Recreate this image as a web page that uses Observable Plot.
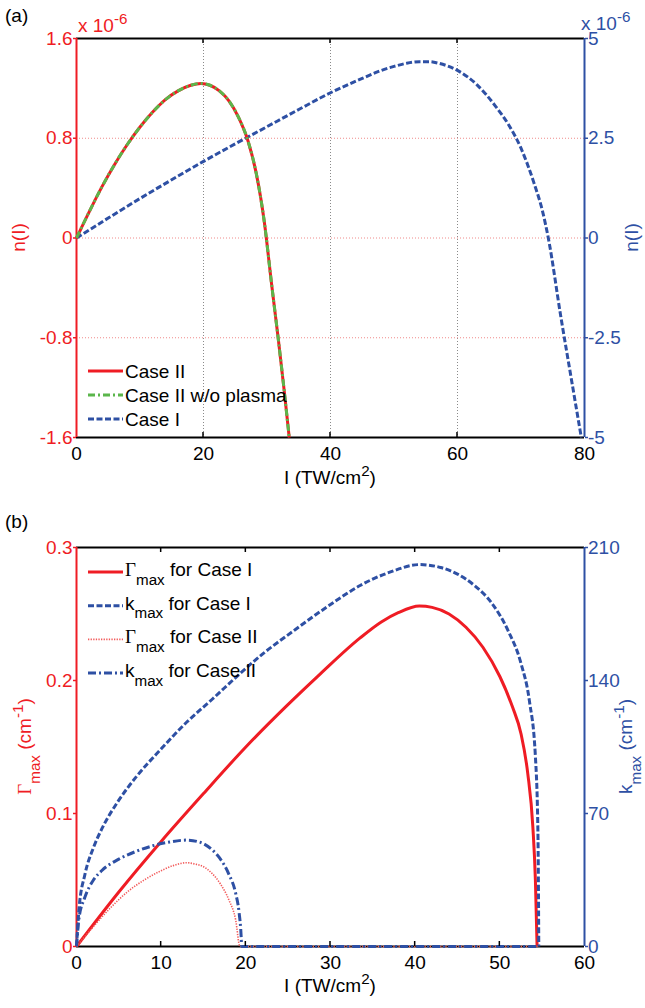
<!DOCTYPE html>
<html>
<head>
<meta charset="utf-8">
<script src="https://cdn.jsdelivr.net/npm/d3@7"></script>
<script src="https://cdn.jsdelivr.net/npm/@observablehq/plot@0.6"></script>
<style>
  html, body { margin: 0; padding: 0; background: #fff; }
  #chart { width: 645px; height: 1008px; }
  #chart svg { display: block; }
</style>
</head>
<body>
<div id="chart"></div>
<script>
const FONT = '"Liberation Sans", Arial, Helvetica, sans-serif';
const SERIF = '"Liberation Serif", "Times New Roman", serif';
const RED = "#ef1c24", BLUE = "#2e50a4", GREEN = "#5bb64b", BLACK = "#000", LRED = "#f25a5a";

// ---------- Panel (a) data ----------
const aXTicks = [0, 20, 40, 60, 80];
const aLeftTicks = [-1.6, -0.8, 0, 0.8, 1.6];     // x 10^-6
const aRightTicks = [-5, -2.5, 0, 2.5, 5];        // x 10^-6
const aGridY = [-0.8, 0, 0.8];
const aCaseII_I = [0, 2, 4, 6, 8, 10, 12, 14, 16, 18, 19.6, 21, 22.5, 24, 25.5, 27, 28.3, 29.6, 30.7, 31.8, 32.7, 33.5];
const aCaseII_n = [0, 0.21, 0.41, 0.59, 0.75, 0.89, 1.01, 1.11, 1.18, 1.225, 1.24, 1.225, 1.18, 1.1, 0.97, 0.78, 0.52, 0.12, -0.36, -0.82, -1.22, -1.6];
const aCaseIIwo_I = [0, 2, 4, 6, 8, 10, 12, 14, 16, 18, 19.6, 21, 22.5, 24, 25.5, 27, 28.3, 29.6, 30.7, 31.8, 32.7, 33.5];
const aCaseIIwo_n = [0, 0.21, 0.41, 0.59, 0.75, 0.89, 1.01, 1.11, 1.18, 1.225, 1.24, 1.225, 1.18, 1.1, 0.97, 0.78, 0.52, 0.12, -0.36, -0.82, -1.22, -1.6];
const aCaseI_I = [0, 5, 10, 15, 20, 25, 30, 35, 40, 45, 48, 50, 52, 54, 55.5, 57, 60, 63, 66, 68, 70, 72, 73.5, 74.3, 76.3, 78, 79.5];
const aCaseI_n = [0, 0.5, 0.99, 1.46, 1.92, 2.36, 2.79, 3.22, 3.64, 4.0, 4.2, 4.3, 4.38, 4.42, 4.42, 4.38, 4.2, 3.85, 3.3, 2.85, 2.25, 1.4, 0.6, 0, -2.0, -3.6, -5];

// ---------- Panel (b) data ----------
const bXTicks = [0, 10, 20, 30, 40, 50, 60];
const bLeftTicks = [0, 0.1, 0.2, 0.3];
const bRightTicks = [0, 70, 140, 210];
const bGammaI_I = [0, 5, 10, 15, 20, 25, 28.8, 33.5, 36, 38, 40.5, 42, 44, 46, 48, 50, 51.5, 52.5, 53.3, 53.9, 54.2, 54.4];
const bGammaI = [0, 0.041, 0.079, 0.115, 0.15, 0.182, 0.205, 0.232, 0.244, 0.251, 0.256, 0.255, 0.25, 0.24, 0.225, 0.203, 0.18, 0.16, 0.13, 0.09, 0.05, 0];
const bKI_I = [0, 0.3, 1, 2, 3, 5, 7, 10, 13, 16, 19.4, 22, 25.6, 30, 33.5, 37, 40.5, 43, 45, 47, 49, 51, 52.5, 53.5, 54.2, 54.5, 54.6];
const bKI = [0, 20, 38, 52, 62, 77, 89, 104, 118, 130, 144, 154, 166, 180, 190, 197, 201, 199.5, 196, 190, 181, 166, 149, 129, 100, 60, 0];
const bGammaII_I = [0, 2, 4, 6, 8, 10, 11.5, 13, 14, 15, 16, 17, 18, 18.8, 19.3, 54.5];
const bGammaII = [0, 0.015, 0.029, 0.041, 0.05, 0.057, 0.061, 0.063, 0.062, 0.06, 0.055, 0.047, 0.035, 0.02, 0, 0];
const bKII_I = [0, 0.3, 1, 2, 3, 5, 7, 9, 11, 13, 14.5, 16, 17, 18, 18.8, 19.2, 19.45, 19.5, 54.5];
const bKII = [0, 15, 26, 35, 40, 46, 50, 53, 55, 56, 55, 51, 46, 38, 28, 18, 5, 0, 0];

// ---------- helpers ----------
const rows = (X, Y) => X.map((v, i) => ({I: v, v: Y[i]}));
const aK = d3.max(aLeftTicks) / d3.max(aRightTicks);
const bK = d3.max(bLeftTicks) / d3.max(bRightTicks);

function rich(sel, parts, size) {
  let cur = 0;
  for (const p of parts) {
    const [s, type, fam] = Array.isArray(p) ? p : [p];
    const target = type === "sup" ? -0.42 * size : type === "sub" ? 0.46 * size : 0;
    const ts = sel.append("tspan").text(s).attr("dy", target - cur);
    cur = target;
    if (type === "sup" || type === "sub") ts.attr("font-size", size * 0.8);
    if (fam) ts.attr("font-family", fam);
  }
}
function label(parts, place) {
  return (index, scales, values, dims) => {
    const {x, y, rotate = 0, anchor = "start", fill = BLACK, size = 19} = place(dims);
    const t = d3.create("svg:text")
      .attr("transform", `translate(${x},${y}) rotate(${rotate})`)
      .attr("text-anchor", anchor).attr("fill", fill)
      .attr("font-size", size).attr("font-family", FONT);
    rich(t, parts, size);
    return t.node();
  };
}
function frameTicks(ticks, len) {
  return (index, {x}, values, {height, marginTop, marginBottom}) => {
    const g = d3.create("svg:g").attr("stroke", BLACK).attr("stroke-width", 1.5);
    const top = marginTop, bot = height - marginBottom;
    for (const t of ticks.slice(1, -1)) {
      const px = x(t);
      g.append("line").attr("x1", px).attr("x2", px).attr("y1", top).attr("y2", top + len);
      g.append("line").attr("x1", px).attr("x2", px).attr("y1", bot).attr("y2", bot - len);
    }
    return g.node();
  };
}
function legend(entries, rowY, baseOff) {
  return (index, scales, values, dims) => {
    const g = d3.create("svg:g");
    const x0 = dims.marginLeft + 12;
    entries.forEach((e, i) => {
      const y = rowY(dims, i);
      g.append("line").attr("x1", x0).attr("x2", x0 + 35).attr("y1", y).attr("y2", y)
        .attr("stroke", e.stroke).attr("stroke-width", e.width)
        .attr("stroke-linecap", "butt")
        .attr("stroke-dasharray", e.dash || null);
      const t = g.append("text").attr("x", x0 + 37).attr("y", y + baseOff)
        .attr("text-anchor", "start")
        .attr("font-size", 19).attr("font-family", FONT).attr("fill", BLACK);
      rich(t, e.parts, 19);
    });
    return g.node();
  };
}
const fmtNum = d => String(+d.toFixed(2));
const dashed = (o) => ({strokeLinecap: "butt", strokeLinejoin: "round", curve: "monotone-x", ...o});

// ---------- Panel (a) ----------
const aXD = [aXTicks[0], aXTicks[aXTicks.length - 1]];
const aYD = [aLeftTicks[0], aLeftTicks[aLeftTicks.length - 1]];
const panelA = Plot.plot({
  width: 645, height: 500,
  marginTop: 38, marginBottom: 63, marginLeft: 76, marginRight: 61,
  style: {fontFamily: FONT, fontSize: "19px", background: "#fff", overflow: "visible"},
  x: {domain: aXD},
  y: {domain: aYD},
  marks: [
    Plot.ruleX(aXTicks.slice(1, -1), {stroke: "#8a8a8a", strokeWidth: 1, strokeDasharray: "1,2"}),
    Plot.ruleY(aGridY, {stroke: "#f08a8a", strokeWidth: 1, strokeDasharray: "1,2"}),
    Plot.ruleY([aYD[1]], {stroke: BLACK, strokeWidth: 2}),
    Plot.ruleY([aYD[0]], {stroke: BLACK, strokeWidth: 2}),
    Plot.ruleX([aXD[0]], {stroke: RED, strokeWidth: 2}),
    Plot.ruleX([aXD[1]], {stroke: BLUE, strokeWidth: 2}),
    Plot.line(rows(aCaseI_I, aCaseI_n), dashed({x: "I", y: d => d.v * aK, stroke: BLUE, strokeWidth: 3, strokeDasharray: "6,2.5"})),
    Plot.line(rows(aCaseII_I, aCaseII_n), dashed({x: "I", y: "v", stroke: RED, strokeWidth: 3})),
    Plot.line(rows(aCaseIIwo_I, aCaseIIwo_n), dashed({x: "I", y: "v", stroke: GREEN, strokeWidth: 3, strokeDasharray: "7,3,2,3"})),
    frameTicks(aXTicks, 5),
    Plot.axisX({ticks: aXTicks, tickSize: 0, tickPadding: 9, tickFormat: fmtNum, label: null, fontSize: 19}),
    Plot.axisY({anchor: "left", ticks: aLeftTicks, tickSize: 3, tickPadding: 1, tickFormat: fmtNum, label: null, fontSize: 19, color: RED, fill: RED, stroke: RED, strokeWidth: 1.5}),
    Plot.axisY({anchor: "right", ticks: aRightTicks.map(v => v * aK), tickSize: 3, tickPadding: 0.5, tickFormat: d => fmtNum(d / aK), label: null, fontSize: 19, color: BLUE, fill: BLUE, stroke: BLUE, strokeWidth: 1.5}),
    legend([
      {parts: ["Case II"], stroke: RED, width: 3},
      {parts: ["Case II w/o plasma"], stroke: GREEN, width: 3, dash: "7,3,2,3"},
      {parts: ["Case I"], stroke: BLUE, width: 3, dash: "6,2.5"}
    ], (d, i) => d.height - d.marginBottom - 66 + i * 24, 7),
    label(["(a)"], d => ({x: 5, y: 22})),
    label(["x 10", ["-6", "sup"]], d => ({x: d.marginLeft + 2, y: d.marginTop - 6, fill: RED})),
    label(["x 10", ["-6", "sup"]], d => ({x: d.width - d.marginRight - 3, y: d.marginTop - 8, fill: BLUE})),
    label(["I (TW/cm", ["2", "sup"], ")"], d => ({x: (d.marginLeft + d.width - d.marginRight) / 2, y: d.height - d.marginBottom + 47, anchor: "middle"})),
    label(["n(I)"], d => ({x: 25, y: (d.marginTop + d.height - d.marginBottom) / 2, rotate: -90, anchor: "middle", fill: RED})),
    label(["n(I)"], d => ({x: 638, y: (d.marginTop + d.height - d.marginBottom) / 2, rotate: -90, anchor: "middle", fill: BLUE}))
  ]
});

// ---------- Panel (b) ----------
const bXD = [bXTicks[0], bXTicks[bXTicks.length - 1]];
const bYD = [bLeftTicks[0], bLeftTicks[bLeftTicks.length - 1]];
const panelB = Plot.plot({
  width: 645, height: 508,
  marginTop: 47, marginBottom: 62, marginLeft: 76, marginRight: 61,
  style: {fontFamily: FONT, fontSize: "19px", background: "#fff", overflow: "visible"},
  x: {domain: bXD},
  y: {domain: bYD},
  marks: [
    Plot.ruleY([bYD[1]], {stroke: BLACK, strokeWidth: 2}),
    Plot.ruleY([bYD[0]], {stroke: BLACK, strokeWidth: 2}),
    Plot.ruleX([bXD[0]], {stroke: RED, strokeWidth: 2}),
    Plot.ruleX([bXD[1]], {stroke: BLUE, strokeWidth: 2}),
    Plot.line(rows(bGammaI_I, bGammaI), dashed({x: "I", y: "v", stroke: RED, strokeWidth: 3})),
    Plot.line(rows(bKI_I, bKI), dashed({x: "I", y: d => d.v * bK, stroke: BLUE, strokeWidth: 3, strokeDasharray: "6,2.5"})),
    Plot.line(rows(bGammaII_I, bGammaII), dashed({x: "I", y: "v", stroke: LRED, strokeWidth: 1.6, strokeDasharray: "1.3,1.3"})),
    Plot.line(rows(bKII_I, bKII), dashed({x: "I", y: d => d.v * bK, stroke: BLUE, strokeWidth: 3, strokeDasharray: "8,3,2,3"})),
    frameTicks(bXTicks, 5),
    Plot.axisX({ticks: bXTicks, tickSize: 0, tickPadding: 9, tickFormat: fmtNum, label: null, fontSize: 19}),
    Plot.axisY({anchor: "left", ticks: bLeftTicks, tickSize: 3, tickPadding: 1, tickFormat: fmtNum, label: null, fontSize: 19, color: RED, fill: RED, stroke: RED, strokeWidth: 1.5}),
    Plot.axisY({anchor: "right", ticks: bRightTicks.map(v => v * bK), tickSize: 3, tickPadding: 0.5, tickFormat: d => String(Math.round(d / bK)), label: null, fontSize: 19, color: BLUE, fill: BLUE, stroke: BLUE, strokeWidth: 1.5}),
    legend([
      {parts: [["Γ", null, SERIF], ["max", "sub"], [" for Case I", null]], stroke: RED, width: 3},
      {parts: ["k", ["max", "sub"], [" for Case I", null]], stroke: BLUE, width: 3, dash: "6,2.5"},
      {parts: [["Γ", null, SERIF], ["max", "sub"], [" for Case II", null]], stroke: LRED, width: 1.6, dash: "1.3,1.3"},
      {parts: ["k", ["max", "sub"], [" for Case II", null]], stroke: BLUE, width: 3, dash: "8,3,2,3"}
    ], (d, i) => d.marginTop + 25 + i * 33.7, 4),
    label(["(b)"], d => ({x: 5, y: 28})),
    label(["I (TW/cm", ["2", "sup"], ")"], d => ({x: (d.marginLeft + d.width - d.marginRight) / 2, y: d.height - d.marginBottom + 46, anchor: "middle"})),
    label([["Γ", null, SERIF], ["max", "sub"], [" (cm", null], ["-1", "sup"], [")", null]], d => ({x: 31, y: (d.marginTop + d.height - d.marginBottom) / 2, rotate: -90, anchor: "middle", fill: RED})),
    label(["k", ["max", "sub"], [" (cm", null], ["-1", "sup"], [")", null]], d => ({x: 632, y: (d.marginTop + d.height - d.marginBottom) / 2, rotate: -90, anchor: "middle", fill: BLUE}))
  ]
});

document.getElementById("chart").append(panelA, panelB);
</script>
</body>
</html>
